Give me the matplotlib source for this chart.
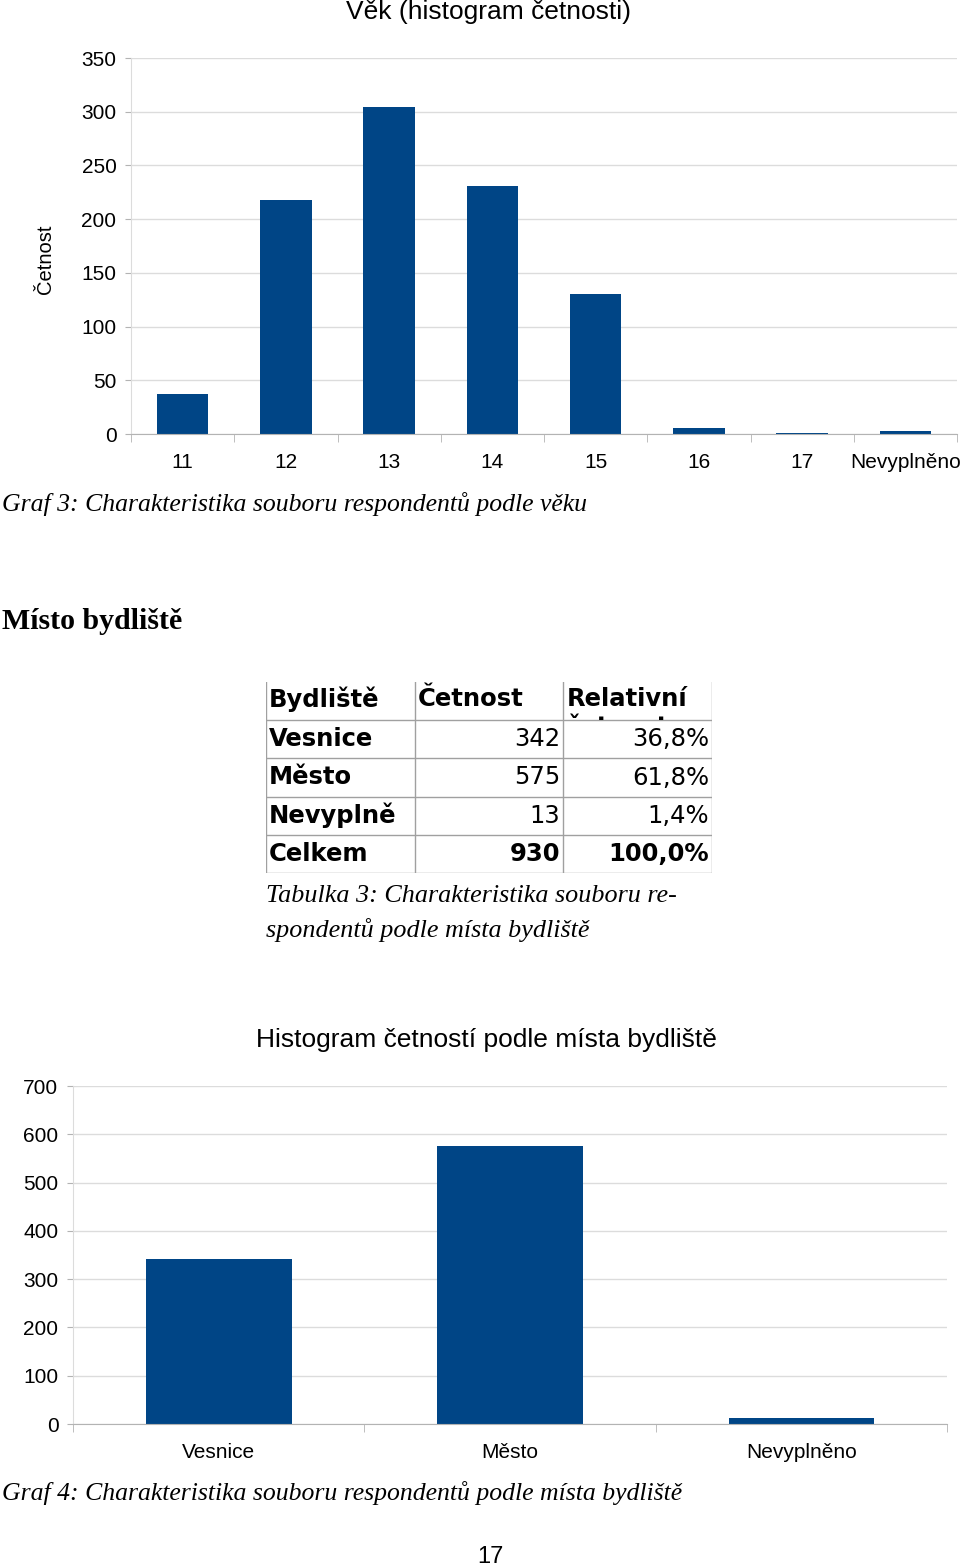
import matplotlib
matplotlib.use('Agg')
import matplotlib.pyplot as plt
from matplotlib.lines import Line2D
from matplotlib.transforms import Bbox, TransformedBbox

# Data
age_labels = ['11', '12', '13', '14', '15', '16', '17', 'Nevyplněno']
age_counts = [37, 218, 304, 231, 130, 6, 1, 3]

place_labels = ['Vesnice', 'Město', 'Nevyplněno']
place_counts = [342, 575, 13]
place_rel = ['36,8%', '61,8%', '1,4%']
total_count = 930
total_rel = '100,0%'

W, H = 960, 1568
BLUE = '#004586'
GRID = '#dcdcdc'
SPINE = '#b3b3b3'
SANS = 'Liberation Sans'
SERIF = 'Liberation Serif'

fig = plt.figure(figsize=(W / 100, H / 100), dpi=100)


def px_axes(x0, y0, x1, y1):
    # axes placed by page pixel coordinates (top-left origin)
    return fig.add_axes([x0 / W, 1 - y1 / H, (x1 - x0) / W, (y1 - y0) / H])


def px_text(x, y, s, **kw):
    fig.text(x / W, 1 - y / H, s, **kw)


def style_bar_axes(ax, labels, ymax, ystep):
    n = len(labels)
    ax.set_xlim(-0.5, n - 0.5)
    ax.set_ylim(0, ymax)
    ax.set_yticks(range(0, ymax + 1, ystep))
    ax.set_xticks(range(n))
    ax.set_xticklabels(labels)
    ax.set_xticks([i - 0.5 for i in range(n + 1)], minor=True)
    ax.tick_params(axis='x', which='major', length=0, pad=14, labelsize=15)
    ax.tick_params(axis='x', which='minor', length=6, color=SPINE, direction='out')
    ax.tick_params(axis='y', length=4, color=SPINE, pad=6.5, labelsize=15)
    for lab in ax.get_xticklabels() + ax.get_yticklabels():
        lab.set_fontfamily(SANS)
    ax.grid(axis='y', color=GRID, linewidth=1)
    ax.set_axisbelow(True)
    for side in ['top', 'right']:
        ax.spines[side].set_visible(False)
    ax.spines['left'].set_color(GRID)
    ax.spines['bottom'].set_color(SPINE)


# Chart 1: age
ax1 = px_axes(131, 58, 957, 434)
ax1.bar(range(len(age_counts)), age_counts, width=0.5, color=BLUE)
style_bar_axes(ax1, age_labels, 350, 50)
px_text(489, 12, 'Věk (histogram četnosti)', ha='center', va='center',
        fontsize=19, family=SANS)
px_text(45, 259, 'Četnost', ha='center', va='center', rotation=90,
        fontsize=14.5, family=SANS)
px_text(2, 504, 'Graf 3: Charakteristika souboru respondentů podle věku',
        ha='left', va='center', fontsize=18.5, family=SERIF, style='italic')

# Heading
px_text(2, 622, 'Místo bydliště', ha='left', va='center', fontsize=21.5,
        family=SERIF, weight='bold')

# Table
tab = px_axes(266, 682, 712, 873)
tab.set_xlim(0, 3)
tab.set_ylim(5, 0)
tab.axis('off')
for x in range(4):
    tab.add_line(Line2D([x, x], [0, 5], color='#a0a0a0', linewidth=1))
for y in range(1, 6):
    tab.add_line(Line2D([0, 3], [y, y], color='#a0a0a0', linewidth=1))

tfont = dict(family='DejaVu Sans', fontsize=17.5, va='center')
tab.text(0.02, 0.45, 'Bydliště', weight='bold', ha='left', **tfont)
tab.text(1.02, 0.45, 'Četnost', weight='bold', ha='left', **tfont)
tab.text(2.02, 0.45, 'Relativní', weight='bold', ha='left', **tfont)
# second header line is cut off by the cell in the original
hidden = tab.text(2.02, 0.87, 'četnost', weight='bold', ha='left',
                  family='DejaVu Sans', fontsize=17.5, va='top')
hidden.set_clip_box(TransformedBbox(Bbox([[2, 0], [3, 0.99]]), tab.transData))
hidden.set_clip_on(True)

rows = list(zip(['Vesnice', 'Město', 'Nevyplně'], place_counts, place_rel))
rows.append(('Celkem', total_count, total_rel))
for i, (name, cnt, rel) in enumerate(rows):
    y = i + 1.5
    w = 'bold' if name == 'Celkem' else 'normal'
    tab.text(0.02, y, name, weight='bold', ha='left', **tfont)
    tab.text(1.98, y, str(cnt), weight=w, ha='right', **tfont)
    tab.text(2.98, y, rel, weight=w, ha='right', **tfont)

px_text(266, 896, 'Tabulka 3: Charakteristika souboru re-', ha='left',
        va='center', fontsize=18.8, family=SERIF, style='italic')
px_text(266, 930, 'spondentů podle místa bydliště', ha='left',
        va='center', fontsize=18.8, family=SERIF, style='italic')

# Chart 2: place of residence
ax2 = px_axes(73, 1086, 947, 1424)
ax2.bar(range(len(place_counts)), place_counts, width=0.5, color=BLUE)
style_bar_axes(ax2, place_labels, 700, 100)
px_text(486, 1040, 'Histogram četností podle místa bydliště', ha='center',
        va='center', fontsize=19, family=SANS)
px_text(2, 1493, 'Graf 4: Charakteristika souboru respondentů podle místa bydliště',
        ha='left', va='center', fontsize=18.5, family=SERIF, style='italic')

px_text(490, 1557, '17', ha='center', va='center', fontsize=17, family=SANS)

fig.savefig('out.png', dpi=100)
